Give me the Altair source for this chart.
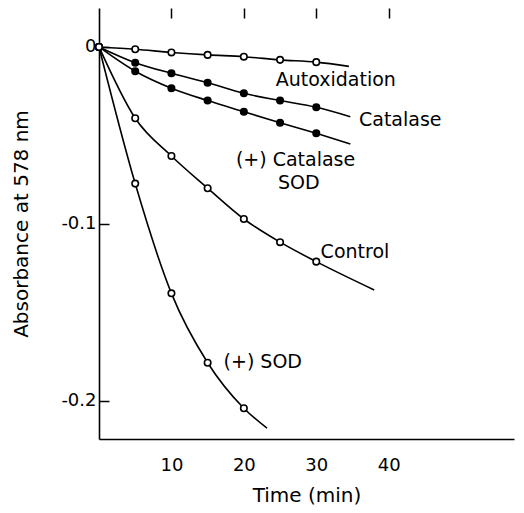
import altair as alt
import pandas as pd

# ---- data ----
times = [0, 5, 10, 15, 20, 25, 30]
autox = [0, -0.0013, -0.0031, -0.0045, -0.0055, -0.0073, -0.0086]
catalase = [0, -0.0089, -0.0149, -0.0202, -0.0262, -0.0303, -0.0341]
cat_sod = [0, -0.0137, -0.0233, -0.0303, -0.0366, -0.0428, -0.0488]
control = [0, -0.0403, -0.0616, -0.0798, -0.0972, -0.1103, -0.1213]
sod_times = [0, 5, 10, 15, 20]
sod = [0, -0.0772, -0.1392, -0.1784, -0.2041]

# where each drawn curve ends (beyond its last point)
series_names = ["Autoxidation", "Catalase", "(+) Catalase SOD", "Control", "(+) SOD"]
end_t = [34.5, 34.7, 34.7, 38.0, 23.2]
end_a = [-0.0110, -0.0394, -0.0548, -0.1373, -0.2154]
open_marker = [True, False, False, True, True]

label_text = ["Autoxidation", "Catalase", "(+) Catalase", "SOD", "Control", "(+) SOD"]
label_t = [24.4, 35.9, 18.9, 24.7, 30.6, 17.2]
label_a = [-0.0186, -0.0412, -0.0638, -0.0768, -0.1156, -0.1780]

x_ticks = [10, 20, 30, 40]
y_ticks = [0, -0.1, -0.2]

# ---- build tables ----
series_vals = [
    (times, autox), (times, catalase), (times, cat_sod), (times, control), (sod_times, sod)
]
pts_rows, line_rows = [], []
for name, (ts, vs), et, ea, op in zip(series_names, series_vals, end_t, end_a, open_marker):
    for t, v in zip(ts, vs):
        pts_rows.append({"series": name, "t": t, "a": v, "open": op})
        line_rows.append({"series": name, "t": t, "a": v})
    line_rows.append({"series": name, "t": et, "a": ea})
pts = pd.DataFrame(pts_rows)
lines = pd.DataFrame(line_rows)
labels = pd.DataFrame({"label": label_text, "t": label_t, "a": label_a})

FONT = "DejaVu Sans"
X_DOM = [0, 57.3]
Y_DOM = [-0.2215, 0.022]
xs = alt.Scale(domain=X_DOM, nice=False, zero=False)
ys = alt.Scale(domain=Y_DOM, nice=False, zero=False)

# inward ticks are drawn as grid lines dashed so only their first ~10 px (from the axis) show
x_axis = alt.Axis(values=x_ticks, ticks=False, grid=True, gridColor="black", gridWidth=1.5,
                  gridOpacity=1, gridDash=[10, 3000],
                  domainColor="black", domainWidth=1.6, labelFont=FONT, labelFontSize=18,
                  labelColor="black", labelPadding=17, title="Time (min)", titleFont=FONT,
                  titleFontSize=20, titleFontWeight="normal", titleColor="black", titlePadding=11)
y_axis = alt.Axis(values=y_ticks, ticks=False, grid=True, gridColor="black", gridWidth=1.5,
                  gridOpacity=1, gridDash=[10, 3000],
                  domainColor="black", domainWidth=1.6, labelFont=FONT, labelFontSize=18,
                  labelColor="black", labelPadding=3,
                  labelExpr="datum.value == 0 ? '0' : '-' + format(abs(datum.value), '.1f')",
                  title="Absorbance at 578 nm", titleFont=FONT, titleFontSize=20,
                  titleFontWeight="normal", titleColor="black", titlePadding=29)

X = alt.X("t:Q", scale=xs, axis=x_axis)
Y = alt.Y("a:Q", scale=ys, axis=y_axis)

line_layer = alt.Chart(lines).mark_line(color="black", strokeWidth=1.6, interpolate="monotone").encode(
    x=X, y=Y, detail="series:N",
)

point_layer = alt.Chart(pts).mark_point(shape="circle", size=42, filled=True, stroke="black",
                                        strokeWidth=1.6, opacity=1).encode(
    x=X, y=Y,
    fill=alt.Fill("open:N", scale=alt.Scale(domain=[True, False], range=["white", "black"]), legend=None),
)

text_layer = alt.Chart(labels).mark_text(align="left", baseline="middle", font=FONT,
                                         fontSize=19, color="black").encode(
    x=X, y=Y, text="label:N",
)

chart = alt.layer(line_layer, point_layer, text_layer).properties(
    width=415, height=431,
    autosize=alt.AutoSizeParams(type="none"),
    padding={"left": 91, "top": 0, "right": 2, "bottom": 66},
    background="white",
).configure_view(stroke=None)

chart.save("out.html", embed_options={"renderer": "svg", "actions": False})
